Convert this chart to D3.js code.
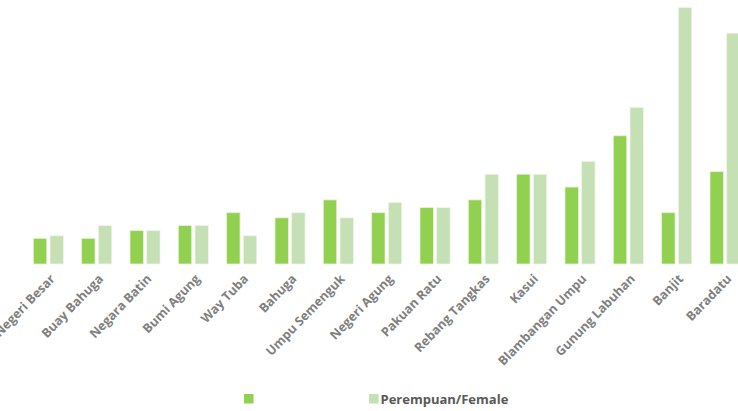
<!DOCTYPE html>
<html>
<head>
<meta charset="utf-8">
<script src="https://cdn.jsdelivr.net/npm/d3@7"></script>
<style>
  body { margin: 0; background: #fff; }
  svg { display: block; font-family: "Open Sans", sans-serif; }
</style>
</head>
<body>
<div class="chart-box"></div>
<script>
// kecamatan (districts)
let districts = ["Negeri Besar", "Buay Bahuga", "Negara Batin", "Bumi Agung", "Way Tuba",
  "Bahuga", "Umpu Semenguk", "Negeri Agung", "Pakuan Ratu", "Rebang Tangkas",
  "Kasui", "Blambangan Umpu", "Gunung Labuhan", "Banjit", "Baradatu"];
// first series (legend label is blank in the source)
let male = [10, 10, 13, 15, 20, 18, 25, 20, 22, 25, 35, 30, 50, 20, 36];
let female = [11, 15, 13, 15, 11, 20, 18, 24, 22, 35, 35, 40, 61, 100, 90];
let legendLabels = ["", "Perempuan/Female"];
let colors = ["#92d050", "#c5e0b4"];

let width = 738, height = 411;

let svg = d3.select(".chart-box")
  .append("svg")
  .attr("width", width)
  .attr("height", height);

let x = d3.scaleBand()
  .domain(districts)
  .range([24.2, 749.2]);

let y = d3.scaleLinear()
  .domain([0, 100])
  .range([264, 7.5]);

let barW = 13.4, gap = 3.3;

let groups = svg.append("g")
  .selectAll("g")
  .data(districts)
  .enter()
  .append("g")
  .attr("transform", d => "translate(" + (x(d) + x.bandwidth() / 2) + ",0)");

//dark bars
groups.append("rect")
  .attr("x", -barW - gap / 2)
  .attr("width", barW)
  .attr("y", (d, i) => y(male[i]))
  .attr("height", (d, i) => y(0) - y(male[i]))
  .attr("fill", colors[0])
  .attr("stroke", "#e6f2d9")
  .attr("stroke-width", 0.8);

//light bars
groups.append("rect")
  .attr("x", gap / 2)
  .attr("width", barW)
  .attr("y", (d, i) => y(female[i]))
  .attr("height", (d, i) => y(0) - y(female[i]))
  .attr("fill", colors[1])
  .attr("stroke", "#eef6e8")
  .attr("stroke-width", 0.8);

//x labels
svg.append("g")
  .selectAll("text")
  .data(districts)
  .enter()
  .append("text")
  .attr("transform", d => "translate(" + (x(d) + x.bandwidth() / 2 + 0.5) + ",273) rotate(-46)")
  .attr("text-anchor", "end")
  .attr("dy", "0.75em")
  .attr("font-size", 12.6)
  .attr("font-weight", "bold")
  .attr("fill", "#7f7f7f")
  .text(d => d);

//legend
let legendX = [244, 369];
let legend = svg.append("g")
  .selectAll("g")
  .data(legendLabels)
  .enter()
  .append("g")
  .attr("transform", (d, i) => "translate(" + legendX[i] + ",394)");

legend.append("rect")
  .attr("width", 9.5)
  .attr("height", 9.5)
  .attr("fill", (d, i) => colors[i]);

legend.append("text")
  .attr("x", 11.5)
  .attr("y", 9.8)
  .attr("font-size", 13)
  .attr("font-weight", "bold")
  .attr("fill", "#595959")
  .text(d => d);
</script>
</body>
</html>
